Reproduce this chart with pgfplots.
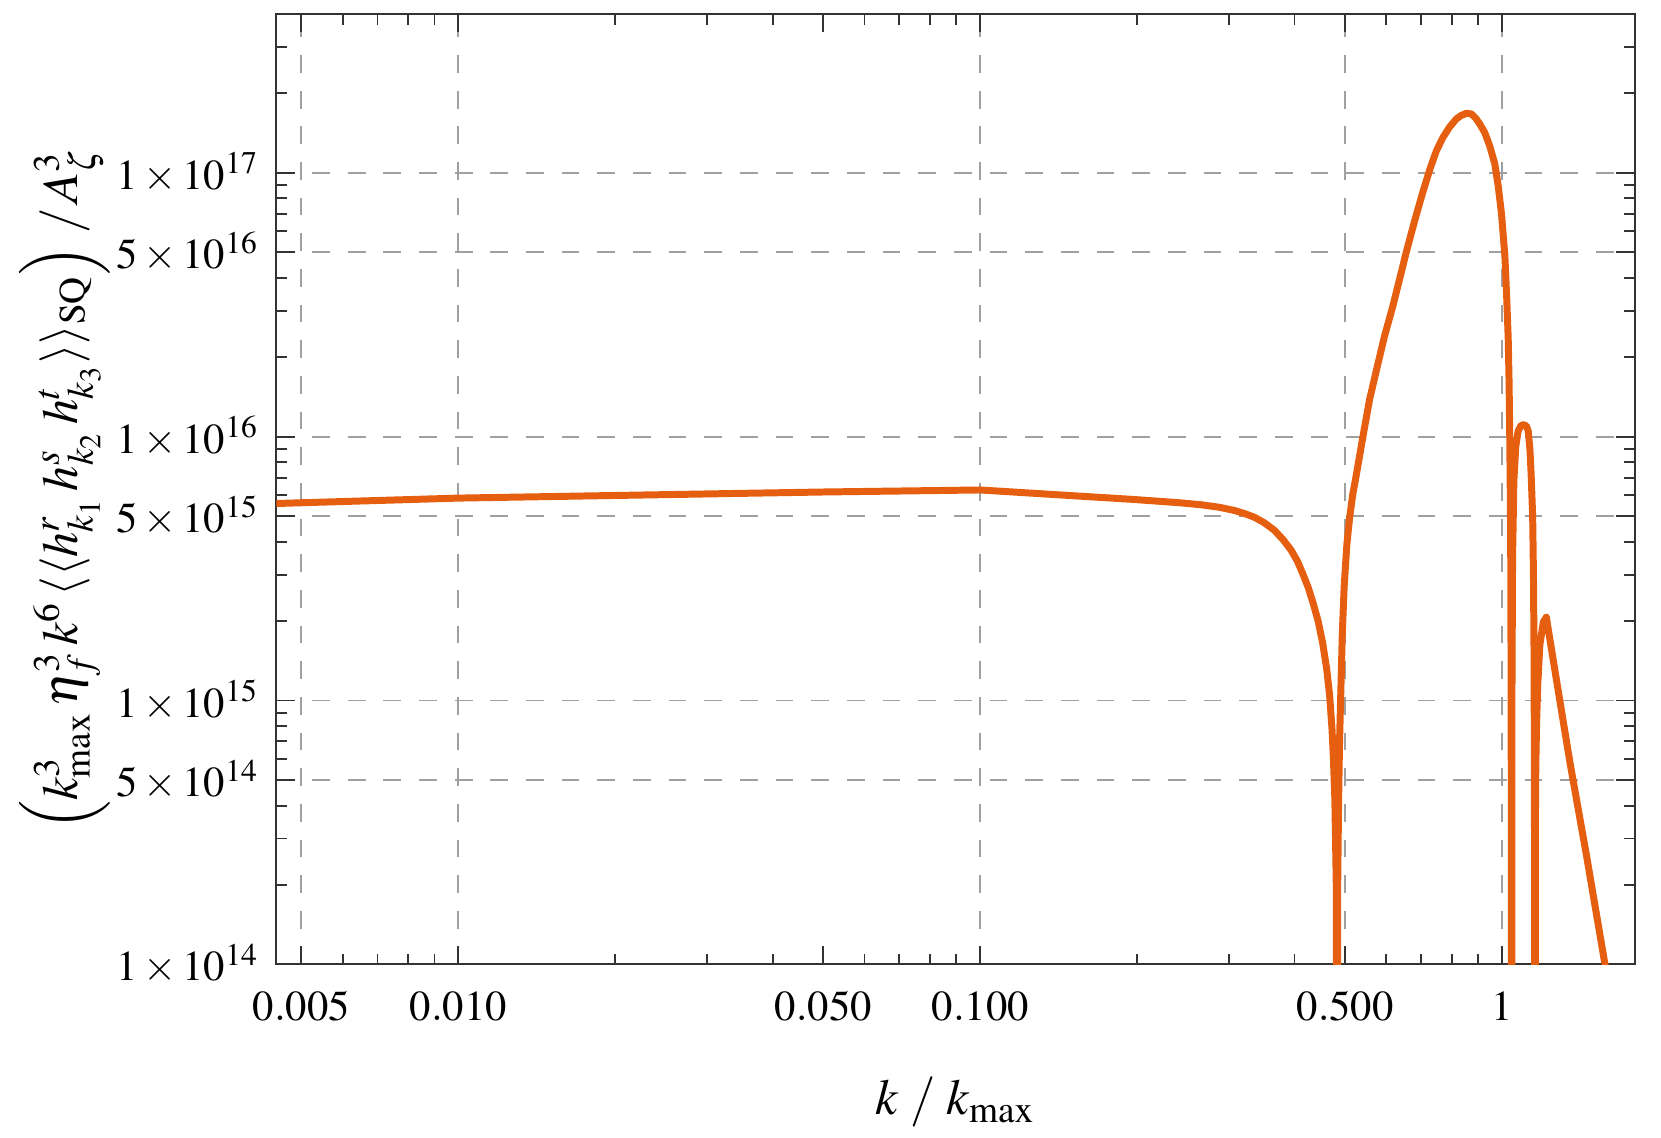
\documentclass[border=0pt]{standalone}
\usepackage{mathptmx}
\usepackage{pgfplots}
\usetikzlibrary{calc}
\pgfplotsset{compat=1.18}
\definecolor{curve}{RGB}{230,94,16}
\definecolor{gridc}{RGB}{160,160,160}
\begin{document}
\begin{tikzpicture}
\begin{loglogaxis}[
  width=350.4pt, height=245.2pt, scale only axis,
  xmin=0.00448, xmax=1.794,
  ymin=1e14, ymax=4e17,
  axis line style={black!80, line width=0.5pt},
  tick align=inside,
  tick style={black!80, line width=0.5pt},
  major tick length=4.8pt, minor tick length=2.8pt,
  xtick={0.005,0.01,0.05,0.1,0.5,1},
  xticklabels={$0.005$,$0.010$,$0.050$,$0.100$,$0.500$,$1$},
  minor xtick={0.006,0.007,0.008,0.009,0.02,0.03,0.04,0.06,0.07,0.08,0.09,0.2,0.3,0.4,0.6,0.7,0.8,0.9},
  ytick={1e14,5e14,1e15,5e15,1e16,5e16,1e17},
  yticklabels={$1\times10^{14}$,$5\times10^{14}$,$1\times10^{15}$,$5\times10^{15}$,$1\times10^{16}$,$5\times10^{16}$,$1\times10^{17}$},
  minor ytick={2e14,3e14,4e14,6e14,7e14,8e14,9e14,2e15,3e15,4e15,6e15,7e15,8e15,9e15,2e16,3e16,4e16,6e16,7e16,8e16,9e16,2e17,3e17},
  extra x ticks={0.005,0.01,0.1,0.5,1},
  extra x tick labels={},
  extra y ticks={5e14,1e15,5e15,1e16,5e16,1e17},
  extra y tick labels={},
  extra tick style={grid=major, major grid style={gridc, line width=0.5pt, dash pattern=on 4.6pt off 4.6pt}},
  ticklabel style={font=\fontsize{11}{13}\selectfont},
  xticklabel style={yshift=-3.5pt},
  yticklabel style={xshift=-1pt},
  xlabel={$k\;/\;k_{\max}$},
  ylabel={$\left(k_{\max}^3\,\eta_f^3\,k^6\,\langle\langle h^r_{k_1}\,h^s_{k_2}\,h^t_{k_3}\rangle\rangle_{\mathrm{SQ}}\right)\,/\,A_\zeta^3$},
  xlabel style={font=\fontsize{13}{15}\selectfont, at={(axis description cs:0.5,-0.145)}, anchor=center},
  ylabel style={font=\fontsize{13}{15}\selectfont, inner sep=0pt, at={(axis description cs:-0.156,0.5)}, anchor=center},
]
\addplot[curve, line width=1.8pt, line join=round] coordinates {
(0.00448,5.58e15) (0.01,5.85e15) (0.05,6.17e15) (0.1,6.28e15)
(0.147,5.99e15) (0.197,5.78e15) (0.240,5.62e15) (0.265,5.52e15) (0.287,5.40e15) (0.307,5.25e15)
(0.322,5.10e15) (0.335,4.95e15) (0.350,4.72e15) (0.366,4.42e15) (0.380,4.08e15) (0.394,3.72e15)
(0.405,3.38e15) (0.415,3.02e15) (0.425,2.68e15)
(0.434,2.35e15) (0.444,2.0e15) (0.453,1.65e15) (0.461,1.32e15) (0.467,1.05e15) (0.472,7.8e14) (0.475,6.0e14)
(0.478,4.2e14) (0.481,2.0e14) (0.4825,1e12) (0.484,2.0e14)
(0.486,4.2e14) (0.488,7.0e14) (0.491,1.13e15) (0.494,1.8e15) (0.498,2.7e15) (0.504,3.9e15) (0.510,4.9e15)
(0.517,6.0e15) (0.525,7.1e15) (0.541,1.0e16) (0.557,1.38e16) (0.574,1.78e16) (0.595,2.4e16) (0.617,3.11e16)
(0.636,3.95e16) (0.655,5.0e16) (0.680,6.6e16) (0.705,8.47e16) (0.728,1.04e17) (0.748,1.21e17) (0.770,1.36e17) (0.793,1.49e17) (0.817,1.60e17)
(0.835,1.65e17) (0.854,1.68e17) (0.873,1.67e17) (0.890,1.61e17) (0.906,1.53e17) (0.926,1.42e17) (0.947,1.26e17) (0.968,1.08e17) (0.982,9.0e16)
(0.997,7.0e16) (1.012,4.85e16) (1.020,3.4e16) (1.027,2.36e16) (1.031,1.6e16) (1.034,1.0e16) (1.037,5.5e15) (1.039,3.0e15)
(1.041,5e14) (1.042,1e12) (1.044,1.0e15) (1.047,3.5e15) (1.053,6.8e15) (1.062,9.2e15)
(1.073,1.05e16) (1.086,1.10e16) (1.098,1.11e16) (1.112,1.10e16) (1.122,1.05e16) (1.130,9.0e15) (1.136,7.3e15)
(1.144,5.0e15) (1.148,3.0e15) (1.151,1.5e15) (1.153,5e14) (1.156,1e12)
(1.158,3.5e14) (1.160,5.7e14) (1.164,8.2e14) (1.170,1.15e15) (1.181,1.63e15) (1.199,1.98e15)
(1.215,2.07e15) (1.262,1.30e15) (1.349,5.8e14) (1.45,2.6e14)
(1.574,1e14) (1.65,5.7e13)
};
\end{loglogaxis}
\pgfresetboundingbox
\path ($(current axis.south west)+(-71.3pt,-44.6pt)$) rectangle ($(current axis.north east)+(6.8pt,3.6pt)$);
\end{tikzpicture}
\end{document}
